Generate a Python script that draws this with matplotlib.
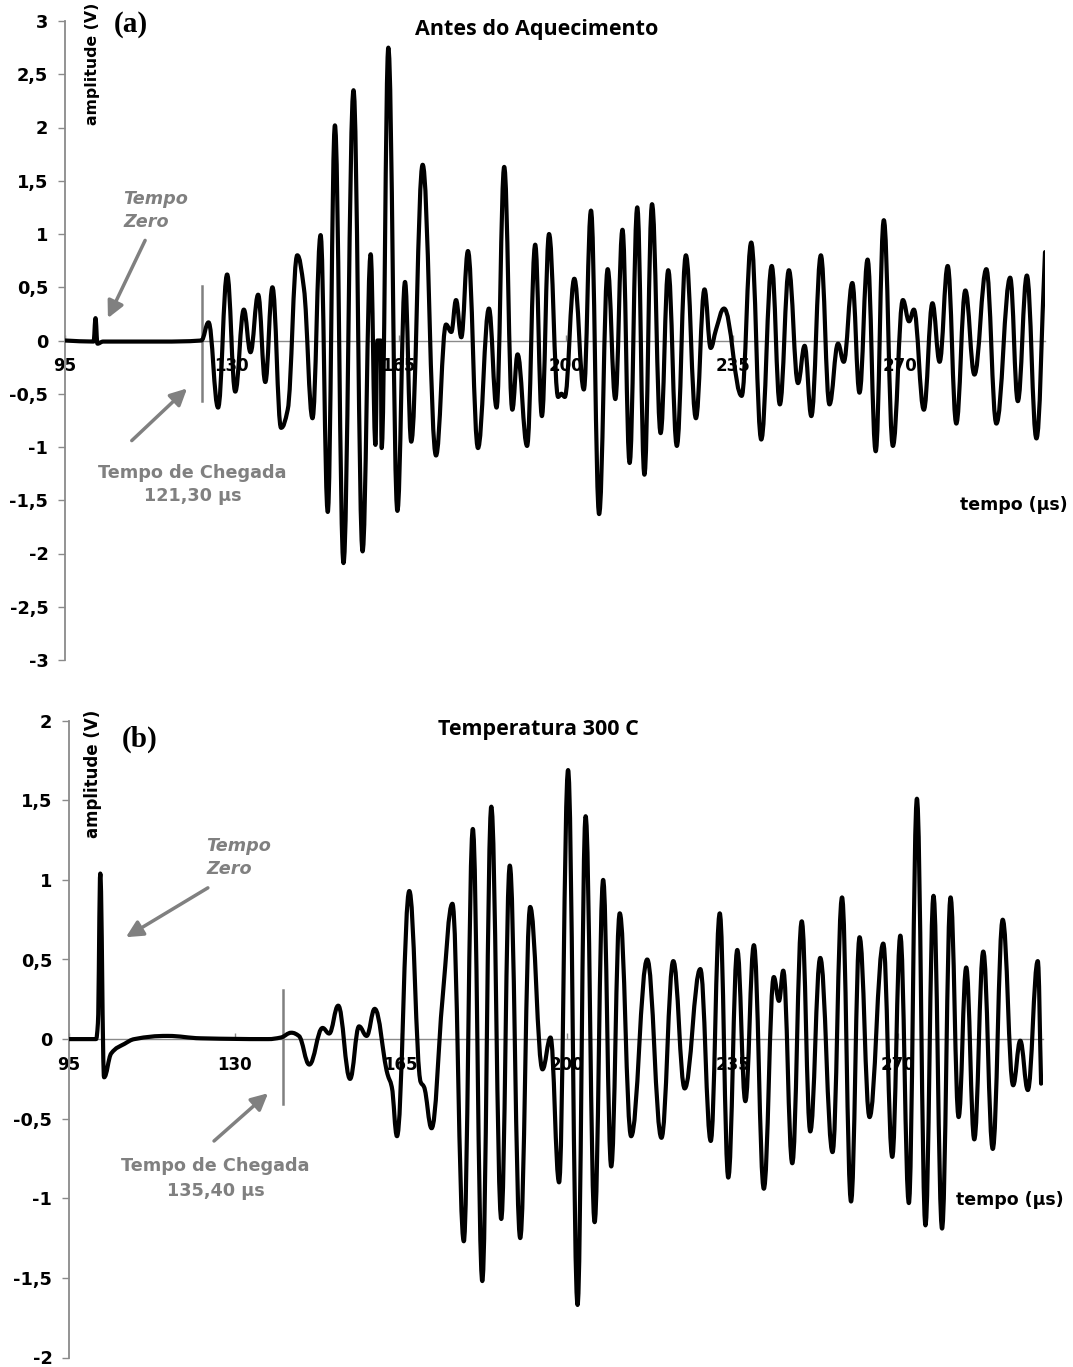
import matplotlib
matplotlib.use("Agg")
import matplotlib.pyplot as plt
from matplotlib.path import Path
from matplotlib.patches import PathPatch
import numpy as np

plt.rcParams['font.family'] = ['DejaVu Sans']

# ---------------- data ----------------
# (a) Antes do Aquecimento : time (us) / amplitude (V) at turning points
time_a = [95.0, 101.0, 101.4, 101.8, 103.0, 115.0, 123.6, 125.1, 127.1, 129.0,
          130.7, 132.5, 133.9, 135.5, 137.0, 138.5, 140.3, 141.7, 143.7, 145.1,
          146.9, 148.6, 150.1, 151.6, 153.4, 155.5, 157.4, 159.1, 160.1, 160.5,
          161.2, 161.4, 162.8, 164.7, 166.3, 167.6, 170.0, 172.8, 174.9, 176.0,
          177.0, 178.1, 179.5, 181.6, 183.9, 185.5, 187.1, 188.8, 189.9, 191.9,
          193.6, 195.0, 196.5, 198.4, 199.1, 199.8, 201.8, 203.8, 205.3, 207.0,
          208.8, 210.4, 211.9, 213.4, 215.0, 216.5, 218.1, 219.9, 221.5, 223.3,
          225.2, 227.3, 229.1, 230.4, 231.5, 233.2, 236.9, 238.9, 241.0, 243.2,
          244.9, 246.8, 248.7, 250.1, 251.5, 253.5, 255.3, 257.1, 258.3, 260.1,
          261.6, 263.3, 265.0, 266.7, 268.6, 270.7, 272.0, 273.0, 275.1, 276.9,
          278.4, 280.1, 281.9, 283.8, 285.7, 288.2, 290.3, 293.2, 294.8, 296.7,
          298.7, 300.5]
amp_a = [0.00, -0.01, 0.21, -0.03, -0.01, -0.01, 0.00, 0.17, -0.63, 0.62,
         -0.48, 0.29, -0.11, 0.43, -0.39, 0.50, -0.82, -0.65, 0.80, 0.49,
         -0.73, 0.99, -1.61, 2.02, -2.09, 2.35, -1.98, 0.81, -0.98, 0.00,
         0.00, -1.01, 2.75, -1.60, 0.55, -0.95, 1.65, -1.08, 0.15, 0.08,
         0.38, 0.03, 0.84, -1.01, 0.30, -0.63, 1.63, -0.65, -0.13, -0.99,
         0.90, -0.71, 1.00, -0.53, -0.50, -0.53, 0.58, -0.46, 1.22, -1.63,
         0.67, -0.55, 1.04, -1.15, 1.25, -1.26, 1.28, -0.87, 0.66, -0.99,
         0.80, -0.73, 0.48, -0.07, 0.10, 0.30, -0.52, 0.92, -0.93, 0.70,
         -0.60, 0.66, -0.40, -0.05, -0.71, 0.80, -0.60, -0.03, -0.20, 0.54,
         -0.49, 0.76, -1.04, 1.13, -0.99, 0.38, 0.18, 0.29, -0.65, 0.35,
         -0.20, 0.70, -0.78, 0.47, -0.32, 0.67, -0.78, 0.59, -0.57, 0.61,
         -0.92, 0.83]

# (b) Temperatura 300 C
time_b = [95.0, 100.7, 101.1, 101.6, 102.4, 103.9, 106.7, 108.8, 115.8, 122.8,
          137.0, 139.7, 141.9, 143.5, 145.7, 148.5, 149.9, 151.8, 154.3, 156.2,
          157.8, 159.5, 162.2, 163.1, 164.2, 166.8, 169.2, 169.9, 171.5, 173.8,
          175.9, 178.3, 180.2, 182.2, 184.1, 186.2, 188.0, 190.2, 192.3, 194.9,
          196.6, 198.4, 200.3, 202.3, 204.0, 205.9, 207.7, 209.4, 211.2, 213.6,
          217.0, 220.0, 222.5, 224.9, 228.2, 230.4, 232.3, 234.1, 236.0, 237.7,
          239.5, 241.6, 243.7, 244.8, 245.7, 247.6, 249.6, 251.4, 253.5, 256.1,
          258.1, 260.0, 261.8, 263.9, 266.8, 268.7, 270.4, 272.2, 273.9, 275.7,
          277.4, 279.2, 281.0, 282.7, 284.3, 286.0, 287.9, 289.9, 292.0, 294.2,
          295.7, 297.3, 299.4, 300.1]
amp_b = [0.00, 0.00, 0.10, 1.04, -0.24, -0.09, -0.03, 0.00, 0.02, 0.005,
         0.00, 0.01, 0.04, 0.02, -0.16, 0.07, 0.035, 0.21, -0.25, 0.08,
         0.02, 0.19, -0.22, -0.30, -0.61, 0.93, -0.27, -0.30, -0.56, 0.25,
         0.85, -1.27, 1.32, -1.52, 1.46, -1.13, 1.09, -1.25, 0.83, -0.19,
         0.01, -0.90, 1.69, -1.67, 1.40, -1.15, 1.00, -0.80, 0.79, -0.61,
         0.50, -0.62, 0.49, -0.31, 0.44, -0.64, 0.79, -0.87, 0.56, -0.39,
         0.59, -0.94, 0.39, 0.24, 0.43, -0.78, 0.74, -0.58, 0.51, -0.71,
         0.89, -1.02, 0.64, -0.49, 0.60, -0.74, 0.65, -1.03, 1.51, -1.17,
         0.90, -1.19, 0.89, -0.49, 0.45, -0.63, 0.55, -0.69, 0.75, -0.29,
         -0.01, -0.32, 0.49, -0.28]

x_ticks = [95, 130, 165, 200, 235, 270]
x_labels = ['95', '130', '165', '200', '235', '270']
y_ticks_a = [3, 2.5, 2, 1.5, 1, 0.5, 0, -0.5, -1, -1.5, -2, -2.5, -3]
y_labels_a = ['3', '2,5', '2', '1,5', '1', '0,5', '0', '-0,5', '-1', '-1,5', '-2', '-2,5', '-3']
y_ticks_b = [2, 1.5, 1, 0.5, 0, -0.5, -1, -1.5, -2]
y_labels_b = ['2', '1,5', '1', '0,5', '0', '-0,5', '-1', '-1,5', '-2']

arrival_a = 123.8   # position of the "Tempo de Chegada" marker as drawn
arrival_b = 140.1

# ---------------- figure ----------------
W, H = 1073, 1367
fig = plt.figure(figsize=(W / 100, H / 100), dpi=100)
GRAY = '#808080'
AXGRAY = '#8a8a8a'


def px_axes(left, right, top, bottom):
    return fig.add_axes([left / W, 1 - bottom / H, (right - left) / W, (bottom - top) / H])


def smooth_path(x, y, k=0.40):
    """Smooth (spreadsheet-like) curve through the given points using Bezier segments."""
    x = np.asarray(x, float)
    y = np.asarray(y, float)
    dx = np.diff(x)
    s = np.diff(y) / dx
    m = np.zeros_like(x)
    for i in range(1, len(x) - 1):
        if s[i - 1] * s[i] > 0:
            w1 = 2 * dx[i] + dx[i - 1]
            w2 = dx[i] + 2 * dx[i - 1]
            m[i] = (w1 + w2) / (w1 / s[i - 1] + w2 / s[i])
    m[0] = s[0]
    m[-1] = s[-1]
    verts = [(x[0], y[0])]
    codes = [Path.MOVETO]
    for i in range(len(x) - 1):
        h = dx[i] * k
        verts += [(x[i] + h, y[i] + m[i] * h),
                  (x[i + 1] - h, y[i + 1] - m[i + 1] * h),
                  (x[i + 1], y[i + 1])]
        codes += [Path.CURVE4] * 3
    return Path(verts, codes)


def style_axes(ax, yt, yl, ylim):
    ax.set_xlim(95, 300.5)
    ax.set_ylim(*ylim)
    ax.patch.set_visible(False)
    for sp in ('top', 'right'):
        ax.spines[sp].set_visible(False)
    ax.spines['bottom'].set_position(('data', 0))
    ax.spines['bottom'].set_color(AXGRAY)
    ax.spines['bottom'].set_linewidth(1.0)
    ax.spines['left'].set_color(AXGRAY)
    ax.spines['left'].set_linewidth(1.3)
    ax.set_xticks(x_ticks)
    ax.set_xticklabels(x_labels)
    ax.set_yticks(yt)
    ax.set_yticklabels(yl)
    ax.tick_params(axis='x', direction='in', length=4, width=1, color=AXGRAY,
                   pad=12, labelsize=12)
    ax.tick_params(axis='y', direction='out', length=5, width=1, color=AXGRAY,
                   pad=7, labelsize=12.8)
    for t in ax.get_xticklabels() + ax.get_yticklabels():
        t.set_fontweight('bold')
    ax.set_axisbelow(True)


axA = px_axes(65, 1045, 21, 660)
axB = px_axes(69, 1043, 720.7, 1357.5)
style_axes(axA, y_ticks_a, y_labels_a, (-3, 3))
style_axes(axB, y_ticks_b, y_labels_b, (-2, 2))

for ax, tt, vv in ((axA, time_a, amp_a), (axB, time_b, amp_b)):
    ax.add_patch(PathPatch(smooth_path(tt, vv), fill=False, edgecolor='black',
                           linewidth=3.0, joinstyle='round', capstyle='round', zorder=3))

# arrival markers
axA.plot([arrival_a, arrival_a], [0.51, -0.57], color=GRAY, lw=1.8, zorder=2)
axB.plot([arrival_b, arrival_b], [0.31, -0.41], color=GRAY, lw=1.8, zorder=2)

arrow_kw = dict(arrowstyle='-|>,head_length=1.0,head_width=0.5', color=GRAY, lw=2.5,
                shrinkA=0, shrinkB=0)
txt_kw = dict(color=GRAY, fontweight='bold', fontsize=12.7)

# panel (a) annotations
axA.annotate('', xy=(104.0, 0.21), xytext=(111.8, 0.94), arrowprops=arrow_kw)
axA.annotate('', xy=(120.6, -0.45), xytext=(109.0, -0.94), arrowprops=arrow_kw)
axA.text(107.2, 1.33, 'Tempo', ha='left', va='center', style='italic', **txt_kw)
axA.text(107.2, 1.11, 'Zero', ha='left', va='center', style='italic', **txt_kw)
axA.text(121.6, -1.24, 'Tempo de Chegada', ha='center', va='center', **txt_kw)
axA.text(121.8, -1.46, '121,30 \u00b5s', ha='center', va='center', **txt_kw)

# panel (b) annotations
axB.annotate('', xy=(107.0, 0.64), xytext=(124.3, 0.95), arrowprops=arrow_kw)
axB.annotate('', xy=(137.0, -0.34), xytext=(125.6, -0.64), arrowprops=arrow_kw)
axB.text(123.9, 1.21, 'Tempo', ha='left', va='center', style='italic', **txt_kw)
axB.text(123.9, 1.07, 'Zero', ha='left', va='center', style='italic', **txt_kw)
axB.text(125.8, -0.80, 'Tempo de Chegada', ha='center', va='center', **txt_kw)
axB.text(126.0, -0.955, '135,40 \u00b5s', ha='center', va='center', **txt_kw)

# titles, axis labels, panel letters
fig.text(537 / W, 1 - 30 / H, 'Antes do Aquecimento', ha='center', va='center',
         fontsize=15.5, fontweight='bold', family=['Open Sans', 'DejaVu Sans'])
fig.text(538 / W, 1 - 730 / H, 'Temperatura 300 C', ha='center', va='center',
         fontsize=15.5, fontweight='bold', family=['Open Sans', 'DejaVu Sans'])
fig.text(1068 / W, 1 - 505 / H, 'tempo (\u00b5s)', ha='right', va='center',
         fontsize=12.5, fontweight='bold')
fig.text(1064 / W, 1 - 1200 / H, 'tempo (\u00b5s)', ha='right', va='center',
         fontsize=12.5, fontweight='bold')
fig.text(93 / W, 1 - 125 / H, 'amplitude (V)', ha='center', va='bottom', rotation=90,
         fontsize=11.3, fontweight='bold')
fig.text(93 / W, 1 - 838 / H, 'amplitude (V)', ha='center', va='bottom', rotation=90,
         fontsize=12, fontweight='bold')
fig.text(131 / W, 1 - 25 / H, '(a)', ha='center', va='center', fontsize=21,
         fontweight='bold', family=['Liberation Serif', 'DejaVu Serif'])
fig.text(140 / W, 1 - 739 / H, '(b)', ha='center', va='center', fontsize=21,
         fontweight='bold', family=['Liberation Serif', 'DejaVu Serif'])

fig.savefig('out.png', dpi=100, facecolor='white')
